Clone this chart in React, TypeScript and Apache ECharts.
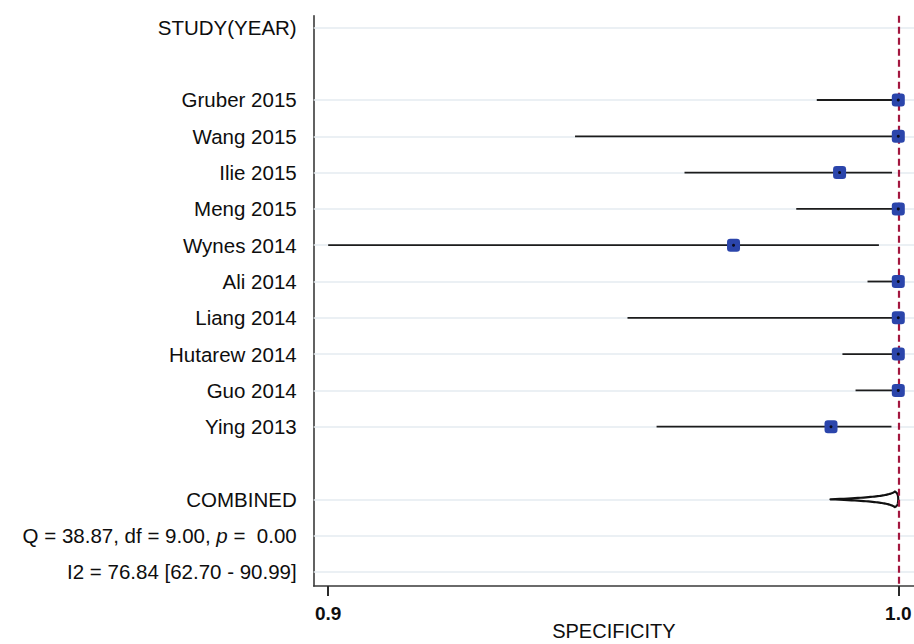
import React, { useEffect, useRef } from 'react';
import * as echarts from 'echarts';

// Individual studies (top to bottom)
const studies = [
  'Gruber 2015',
  'Wang 2015',
  'Ilie 2015',
  'Meng 2015',
  'Wynes 2014',
  'Ali 2014',
  'Liang 2014',
  'Hutarew 2014',
  'Guo 2014',
  'Ying 2013',
];
const specificity = [1.0, 1.0, 0.9897, 1.0, 0.9711, 1.0, 1.0, 1.0, 1.0, 0.9882];
const ciLower = [0.9857, 0.9433, 0.9625, 0.9821, 0.9, 0.9946, 0.9525, 0.9902, 0.9925, 0.9576];
const ciUpper = [1.0, 1.0, 0.9989, 1.0, 0.9966, 1.0, 1.0, 1.0, 1.0, 0.9988];

// Pooled estimate
const combinedEstimate = 0.9994;
const combinedLower = 0.9881;
const combinedUpper = 0.99999;

// Row positions on the vertical axis
const headerRow = -1;
const studyRows = studies.map((_, i) => i + 1);
const combinedRow = 12;
const qRow = 13;
const i2Row = 14;

const headerLabel = 'STUDY(YEAR)';
const combinedLabel = 'COMBINED';
const i2Label = 'I2 = 76.84 [62.70 - 90.99]';

const xTicks = [0.9, 1.0];

const FONT = '"Liberation Sans", Arial, sans-serif';
const TEXT = '#0e0e0e';

export default function App() {
  const ref = useRef<HTMLDivElement>(null);

  useEffect(() => {
    document.body.style.margin = '0';
    if (!ref.current) return;
    const chart = echarts.init(ref.current, null, { renderer: 'svg' });

    const rowLabels: Record<number, string> = {};
    rowLabels[headerRow] = headerLabel;
    studyRows.forEach((r, i) => (rowLabels[r] = studies[i]));
    rowLabels[combinedRow] = combinedLabel;
    rowLabels[qRow] = '{a|Q = 38.87, df = 9.00, }{i|p}{a| =  0.00}';
    rowLabels[i2Row] = i2Label;

    const labelRows = [headerRow, ...studyRows, combinedRow, qRow, i2Row];
    const halfHeight = 0.215; // diamond half-height in row units

    const logit = (p: number) => Math.log(p / (1 - p));
    const expit = (t: number) => 1 / (1 + Math.exp(-t));

    chart.setOption({
      animation: false,
      backgroundColor: '#ffffff',
      grid: {
        left: 313.7,
        right: 0,
        top: 15.7,
        bottom: 58,
        containLabel: false,
        outerBoundsMode: 'none',
      },
      xAxis: {
        type: 'value',
        min: 0.89746,
        max: 1.002754,
        name: 'SPECIFICITY',
        nameLocation: 'middle',
        nameGap: 35,
        nameMoveOverlap: false,
        nameTextStyle: { fontFamily: FONT, fontSize: 20, color: TEXT },
        axisLine: { show: true, onZero: false, lineStyle: { color: '#3a3a3a', width: 1.6 } },
        axisTick: {
          show: true,
          customValues: xTicks,
          length: 10,
          lineStyle: { color: '#2a2a2a', width: 2 },
        },
        axisLabel: {
          customValues: xTicks,
          formatter: (v: number) => v.toFixed(1),
          margin: 18,
          fontFamily: FONT,
          fontSize: 19,
          fontWeight: 'bold',
          color: TEXT,
        },
        splitLine: { show: false },
      },
      yAxis: {
        type: 'value',
        inverse: true,
        min: -1.322,
        max: 14.388,
        axisLine: { show: true, onZero: false, lineStyle: { color: '#3a3a3a', width: 1.6 } },
        axisTick: { show: false },
        splitLine: { show: false },
        axisLabel: {
          customValues: labelRows,
          margin: 17,
          fontFamily: FONT,
          fontSize: 20.5,
          color: TEXT,
          formatter: (v: number) => rowLabels[Math.round(v)] ?? '',
          rich: {
            a: { fontFamily: FONT, fontSize: 20.5, color: TEXT },
            i: { fontFamily: FONT, fontSize: 20.5, color: TEXT, fontStyle: 'italic' },
          },
        },
      },
      series: [
        {
          // light horizontal guide lines behind each labelled row
          type: 'scatter',
          data: [],
          z: 1,
          markLine: {
            z: 1,
            silent: true,
            symbol: 'none',
            label: { show: false },
            lineStyle: { color: '#e5ebf0', width: 1.6, type: 'solid' },
            data: labelRows.map((r) => ({ yAxis: r })),
          },
        },
        {
          // confidence intervals
          type: 'custom',
          z: 3,
          data: studies.map((_, i) => [ciLower[i], ciUpper[i], studyRows[i]]),
          encode: { x: [0, 1], y: 2 },
          renderItem: (_params: any, api: any) => {
            const a = api.coord([api.value(0), api.value(2)]);
            const b = api.coord([api.value(1), api.value(2)]);
            return {
              type: 'line',
              shape: { x1: a[0], y1: a[1], x2: b[0], y2: b[1] },
              style: { stroke: '#1c1c1c', lineWidth: 1.8 },
            };
          },
        },
        {
          // pooled diamond, drawn on the logit scale
          type: 'custom',
          z: 4,
          data: [[combinedLower, combinedEstimate, combinedUpper, combinedRow]],
          encode: { x: [0, 2], y: 3 },
          renderItem: (_params: any, api: any) => {
            const lo = api.value(0);
            const est = api.value(1);
            const hi = api.value(2);
            const row = api.value(3);
            const L = logit(lo);
            const E = logit(est);
            const U = logit(hi);
            const n = 40;
            const ts: number[] = [];
            for (let k = 0; k <= n; k++) ts.push(L + ((E - L) * k) / n);
            for (let k = 1; k <= n; k++) ts.push(E + ((U - E) * k) / n);
            const top: number[][] = [];
            const bottom: number[][] = [];
            ts.forEach((t) => {
              const h = t <= E ? (halfHeight * (t - L)) / (E - L) : (halfHeight * (U - t)) / (U - E);
              top.push(api.coord([expit(t), row - h]));
              bottom.unshift(api.coord([expit(t), row + h]));
            });
            return {
              type: 'polygon',
              shape: { points: top.concat(bottom) },
              style: { fill: '#ffffff', stroke: '#111111', lineWidth: 2.2, lineJoin: 'round' },
            };
          },
        },
        {
          // pooled estimate reference line
          type: 'scatter',
          data: [],
          z: 5,
          markLine: {
            z: 5,
            silent: true,
            symbol: 'none',
            label: { show: false },
            lineStyle: { color: '#a3173f', width: 2.2, type: [7, 4] },
            data: [{ xAxis: combinedEstimate }],
          },
        },
        {
          // study point estimates
          type: 'scatter',
          z: 6,
          symbol: 'roundRect',
          symbolSize: 13,
          itemStyle: { color: '#2b45ab', opacity: 1 },
          data: studies.map((_, i) => [specificity[i], studyRows[i]]),
        },
        {
          type: 'scatter',
          z: 7,
          symbol: 'circle',
          symbolSize: 3,
          itemStyle: { color: '#0a0a1a', opacity: 1 },
          data: studies.map((_, i) => [specificity[i], studyRows[i]]),
        },
      ],
    });

    return () => chart.dispose();
  }, []);

  return <div ref={ref} style={{ width: 914, height: 644 }} />;
}
